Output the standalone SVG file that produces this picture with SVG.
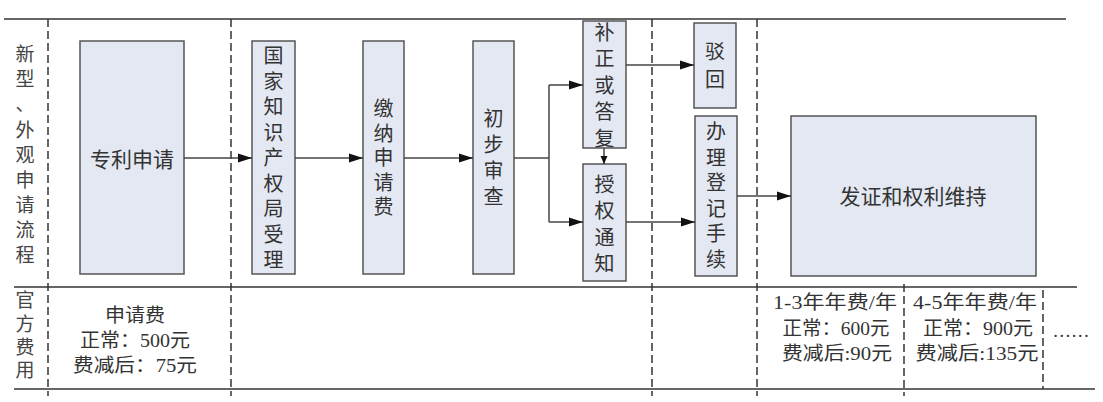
<svg xmlns="http://www.w3.org/2000/svg" width="1103" height="402" viewBox="0 0 1103 402">
<defs>
<style>
.bg{fill:#ffffff}
.hl{stroke:#666;stroke-width:1.8;fill:none}
.dl{stroke:#333;stroke-width:1.5;stroke-dasharray:8 4;fill:none}
.box{fill:#e3e8f2;stroke:#555;stroke-width:1.5}
.t{font-family:"Noto Sans CJK SC","Liberation Serif",serif;fill:#333;font-size:21px;text-anchor:middle;dominant-baseline:central}
.v{font-family:"Noto Sans CJK SC","Liberation Serif",serif;fill:#333;font-size:20px;text-anchor:middle;dominant-baseline:central}
.lbl{font-family:"Noto Sans CJK SC","Liberation Serif",serif;fill:#444;font-size:19px;text-anchor:middle;dominant-baseline:central}
.fee{font-family:"Liberation Serif","Noto Sans CJK SC",serif;fill:#333;font-size:19px;text-anchor:middle;dominant-baseline:central}
.cn{stroke:#444;stroke-width:1.5;fill:none}
</style>
<marker id="arr" markerUnits="userSpaceOnUse" markerWidth="14" markerHeight="10" refX="14" refY="5" orient="auto">
<path d="M0,0.5 L14,5 L0,9.5 z" fill="#111"/>
</marker>
<marker id="arrs" markerUnits="userSpaceOnUse" markerWidth="8" markerHeight="8" refX="8" refY="4" orient="auto">
<path d="M0,0.5 L8,4 L0,7.5 z" fill="#111"/>
</marker>
</defs>
<rect class="bg" x="0" y="0" width="1103" height="402"/>

<g id="frame">
<line class="hl" x1="4" y1="19" x2="1066" y2="19"/>
<line class="hl" x1="14" y1="287" x2="1077" y2="287"/>
<line class="hl" x1="14" y1="389" x2="1095" y2="389"/>
<line class="dl" x1="48" y1="19" x2="48" y2="396"/>
<line class="dl" x1="231" y1="19" x2="231" y2="396"/>
<line class="dl" x1="652" y1="19" x2="652" y2="396"/>
<line class="dl" x1="757" y1="19" x2="757" y2="396"/>
<line class="dl" x1="904" y1="284" x2="904" y2="396"/>
<line class="dl" x1="1043" y1="290" x2="1043" y2="389"/>
</g>

<g id="label-process">
<text class="lbl" x="25" y="52">新</text>
<text class="lbl" x="25" y="77">型</text>
<text class="lbl" x="25" y="102">、</text>
<text class="lbl" x="25" y="128">外</text>
<text class="lbl" x="25" y="153">观</text>
<text class="lbl" x="25" y="178">申</text>
<text class="lbl" x="25" y="203">请</text>
<text class="lbl" x="25" y="228">流</text>
<text class="lbl" x="25" y="253">程</text>
</g>
<g id="label-fee">
<text class="lbl" x="25" y="298">官</text>
<text class="lbl" x="25" y="322">方</text>
<text class="lbl" x="25" y="345">费</text>
<text class="lbl" x="25" y="368">用</text>
</g>

<g id="n-apply">
<rect class="box" x="80" y="41" width="104" height="233"/>
<text class="t" x="132" y="158">专利申请</text>
</g>
<g id="n-accept">
<rect class="box" x="252" y="41" width="43" height="233"/>
<text class="v"><tspan x="273.5" y="54">国</tspan><tspan x="273.5" y="79.5">家</tspan><tspan x="273.5" y="105">知</tspan><tspan x="273.5" y="130.5">识</tspan><tspan x="273.5" y="156">产</tspan><tspan x="273.5" y="181.5">权</tspan><tspan x="273.5" y="207">局</tspan><tspan x="273.5" y="232.5">受</tspan><tspan x="273.5" y="258">理</tspan></text>
</g>
<g id="n-pay">
<rect class="box" x="363" y="41" width="41" height="233"/>
<text class="v"><tspan x="383.5" y="107">缴</tspan><tspan x="383.5" y="131.5">纳</tspan><tspan x="383.5" y="156">申</tspan><tspan x="383.5" y="180.5">请</tspan><tspan x="383.5" y="205">费</tspan></text>
</g>
<g id="n-exam">
<rect class="box" x="473" y="41" width="41" height="233"/>
<text class="v"><tspan x="493.5" y="117">初</tspan><tspan x="493.5" y="143">步</tspan><tspan x="493.5" y="169">审</tspan><tspan x="493.5" y="195">查</tspan></text>
</g>
<g id="n-amend">
<rect class="box" x="583" y="21" width="43" height="127"/>
<text class="v"><tspan x="604.5" y="31">补</tspan><tspan x="604.5" y="57">正</tspan><tspan x="604.5" y="84">或</tspan><tspan x="604.5" y="110">答</tspan><tspan x="604.5" y="137">复</tspan></text>
</g>
<g id="n-grant">
<rect class="box" x="583" y="164" width="43" height="117"/>
<text class="v"><tspan x="604.5" y="183">授</tspan><tspan x="604.5" y="209">权</tspan><tspan x="604.5" y="236">通</tspan><tspan x="604.5" y="262">知</tspan></text>
</g>
<g id="n-reject">
<rect class="box" x="694" y="23" width="42" height="85"/>
<text class="v"><tspan x="715" y="50">驳</tspan><tspan x="715" y="78">回</tspan></text>
</g>
<g id="n-register">
<rect class="box" x="695" y="116" width="42" height="160"/>
<text class="v"><tspan x="716" y="130">办</tspan><tspan x="716" y="156">理</tspan><tspan x="716" y="181">登</tspan><tspan x="716" y="207">记</tspan><tspan x="716" y="232">手</tspan><tspan x="716" y="258">续</tspan></text>
</g>
<g id="n-cert">
<rect class="box" x="791" y="116" width="245" height="160"/>
<text class="t" x="913" y="195">发证和权利维持</text>
</g>

<g id="connectors">
<path class="cn" d="M184,158 H252" marker-end="url(#arr)"/>
<path class="cn" d="M295,158 H363" marker-end="url(#arr)"/>
<path class="cn" d="M404,158 H473" marker-end="url(#arr)"/>
<path class="cn" d="M514,158 H549"/>
<path class="cn" d="M549,85 V222"/>
<path class="cn" d="M549,85 H583" marker-end="url(#arr)"/>
<path class="cn" d="M549,222 H583" marker-end="url(#arr)"/>
<path class="cn" d="M604,148 V164" marker-end="url(#arrs)"/>
<path class="cn" d="M626,65 H694" marker-end="url(#arr)"/>
<path class="cn" d="M626,222 H695" marker-end="url(#arr)"/>
<path class="cn" d="M737,196 H791" marker-end="url(#arr)"/>
</g>

<g id="fee-apply">
<text class="fee" x="135" y="315" textLength="60" lengthAdjust="spacingAndGlyphs">申请费</text>
<text class="fee" x="135" y="340" textLength="110" lengthAdjust="spacingAndGlyphs">正常：500元</text>
<text class="fee" x="135" y="365" textLength="124" lengthAdjust="spacingAndGlyphs">费减后：75元</text>
</g>
<g id="fee-1-3">
<text class="fee" x="835" y="302" textLength="124" lengthAdjust="spacingAndGlyphs">1-3年年费/年</text>
<text class="fee" x="836" y="328" textLength="107" lengthAdjust="spacingAndGlyphs">正常：600元</text>
<text class="fee" x="837" y="353" textLength="110" lengthAdjust="spacingAndGlyphs">费减后:90元</text>
</g>
<g id="fee-4-5">
<text class="fee" x="975" y="302" textLength="124" lengthAdjust="spacingAndGlyphs">4-5年年费/年</text>
<text class="fee" x="978" y="328" textLength="110" lengthAdjust="spacingAndGlyphs">正常：900元</text>
<text class="fee" x="977" y="353" textLength="123" lengthAdjust="spacingAndGlyphs">费减后:135元</text>
</g>
<g id="fee-more">
<text class="fee" x="1071" y="330" textLength="37" lengthAdjust="spacingAndGlyphs">……</text>
</g>
</svg>
